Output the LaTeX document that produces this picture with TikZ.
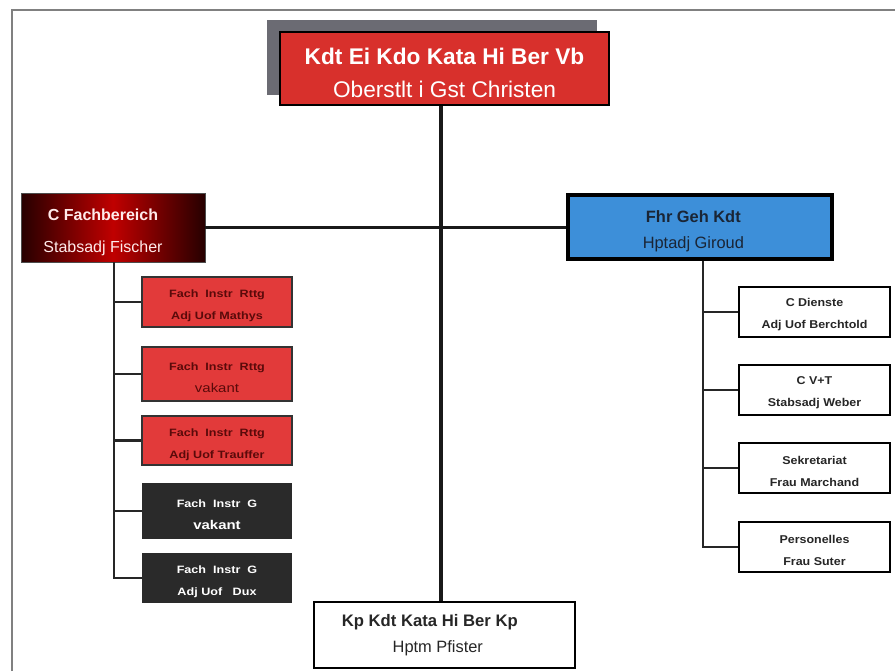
\documentclass[tikz,border=0pt]{standalone}
\usepackage{fontspec}
\setmainfont{Liberation Sans}
\newfontfamily\widesans[FakeStretch=1.18]{Liberation Sans}
\newfontfamily\midsans[FakeStretch=1.1]{Liberation Sans}
\newcommand\liftline[2]{\rule{0pt}{#1}\smash{#2}}
\definecolor{topred}{HTML}{D8302C}
\definecolor{subred}{HTML}{E23A3A}
\definecolor{fblue}{HTML}{3D8FD9}
\definecolor{shadowgray}{HTML}{6B6B73}
\definecolor{darkbox}{HTML}{2A2A2A}
\definecolor{redtext}{HTML}{5A0A0A}
\definecolor{navytext}{HTML}{1A2535}
\definecolor{framegray}{HTML}{808080}
\begin{document}
\begin{tikzpicture}[x=0.75pt,y=-0.75pt,
  every node/.style={inner sep=0pt, align=center},
  conn/.style={line width=2.5pt, black!90},
  branch/.style={line width=1.6pt, black!85},
  topbox/.style={draw=black, line width=2pt, fill=topred, text=white, minimum width=246.75pt, minimum height=54.75pt, font=\fontsize{17}{24.75}\selectfont},
  fbbox/.style={draw=black!70, line width=0.6pt, left color=black!85!red, right color=black!85!red, middle color=red!75!black, text=red!8!white, minimum width=138pt, minimum height=51.75pt, font=\fontsize{12}{24}\selectfont},
  bluebox/.style={draw=black, line width=2.4pt, fill=fblue, text=navytext, minimum width=198pt, minimum height=48pt, font=\fontsize{12.3}{19.5}\selectfont},
  redsub/.style={draw=black!80, line width=2pt, fill=subred, text=redtext, minimum width=112.5pt, font=\widesans\fontsize{8}{16.5}\selectfont\bfseries},
  darksub/.style={fill=darkbox, text=white, minimum width=112.5pt, font=\widesans\fontsize{8}{16.5}\selectfont\bfseries},
  whitesub/.style={draw=black, line width=2pt, fill=white, text=black!85, minimum width=113.25pt, minimum height=37.5pt, font=\midsans\fontsize{8.5}{16.5}\selectfont\bfseries},
  bottombox/.style={draw=black, line width=2.2pt, fill=white, text=black!85, minimum width=195.75pt, minimum height=49.5pt, font=\fontsize{12.5}{19.5}\selectfont}
]
\useasboundingbox (0,0) rectangle (895,671);
% frame
\draw[framegray, line width=0.8pt] (12,671) -- (12,10) -- (895,10);
% shadow
\fill[shadowgray] (267,20) rectangle (597,95);
% top box
\node[topbox] (top) at (444.5,68.5) {\liftline{18.4pt}{\textbf{Kdt Ei Kdo Kata Hi Ber Vb}}\\Oberstlt i Gst Christen};
% main boxes
\node[fbbox] (fb) at (113,227.5) {\liftline{16.3pt}{\textbf{C Fachbereich}}\hspace*{15pt}\\Stabsadj Fischer\hspace*{15pt}};
\node[bluebox] (fg) at (700,227) {\liftline{15pt}{\textbf{Fhr Geh Kdt}}\hspace*{10pt}\\Hptadj Giroud\hspace*{10pt}};
\node[bottombox] (kp) at (444.5,635) {\textbf{Kp Kdt Kata Hi Ber Kp}\hspace*{22pt}\\{\fontsize{12.3}{19.5}\selectfont Hptm Pfister}\hspace*{10pt}};
% left sub boxes
\node[redsub, minimum height=37.5pt] (l1) at (217,302) {\liftline{11.8pt}{Fach\ \ Instr\ \ Rttg}\\Adj Uof Mathys};
\node[redsub, minimum height=40.5pt] (l2) at (217,374) {\liftline{11.8pt}{Fach\ \ Instr\ \ Rttg}\\{\fontsize{9.5}{16.5}\selectfont\mdseries vakant}};
\node[redsub, minimum height=36.75pt] (l3) at (217,440.5) {\liftline{11.8pt}{Fach\ \ Instr\ \ Rttg}\\Adj Uof Trauffer};
\node[darksub, minimum height=42pt] (l4) at (217,511) {\liftline{11.8pt}{Fach\ \ Instr\ \ G}\\{\fontsize{9.5}{16.5}\selectfont\bfseries vakant}};
\node[darksub, minimum height=37.5pt] (l5) at (217,578) {\liftline{11.8pt}{Fach\ \ Instr\ \ G}\\Adj Uof\ \ \ Dux};
% right sub boxes
\node[whitesub] (r1) at (814.5,312) {\liftline{10.7pt}{C Dienste}\\Adj Uof Berchtold};
\node[whitesub] (r2) at (814.5,390) {\liftline{10.7pt}{C V+T}\\Stabsadj Weber};
\node[whitesub] (r3) at (814.5,468) {\liftline{10.7pt}{Sekretariat}\\Frau Marchand};
\node[whitesub] (r4) at (814.5,547) {\liftline{10.7pt}{Personelles}\\Frau Suter};
% coordinates
\coordinate (tx) at (441,0);
\coordinate (lx) at (114,0);
\coordinate (rx) at (703,0);
% connectors
\draw[conn] (top.south -| tx) -- (kp.north -| tx);
\draw[conn] (fb.east) -- (fb.east -| fg.west);
\draw[branch] (fb.south -| lx) -- (l5.west -| lx) -- (l5.west);
\foreach \n in {l1,l2,l3,l4} \draw[branch] (\n.west -| lx) -- (\n.west);
\draw[branch] (fg.south -| rx) -- (r4.west -| rx) -- (r4.west);
\foreach \n in {r1,r2,r3} \draw[branch] (\n.west -| rx) -- (\n.west);
\end{tikzpicture}
\end{document}
